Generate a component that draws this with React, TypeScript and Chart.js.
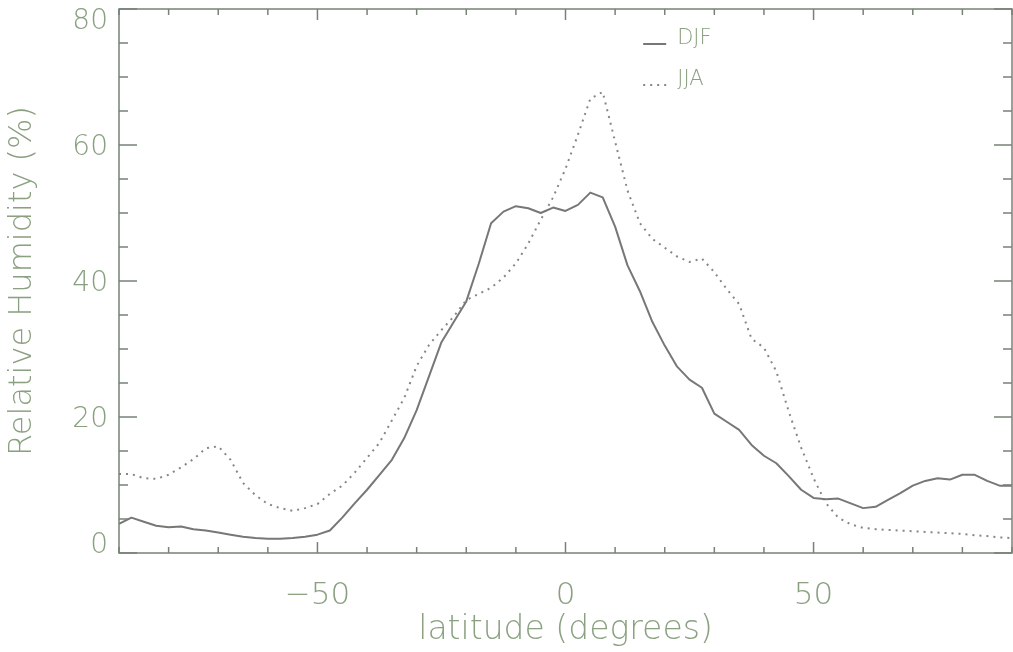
import React, { useEffect, useRef } from "react";
import { Chart, registerables } from "chart.js";

Chart.register(...registerables);

// ---- data ----
const latitudes = [
  -90, -87.5, -85, -82.5, -80, -77.5, -75, -72.5, -70, -67.5, -65, -62.5, -60, -57.5, -55, -52.5,
  -50, -47.5, -45, -42.5, -40, -37.5, -35, -32.5, -30, -27.5, -25, -22.5, -20, -17.5, -15, -12.5,
  -10, -7.5, -5, -2.5, 0, 2.5, 5, 7.5, 10, 12.5, 15, 17.5, 20, 22.5, 25, 27.5,
  30, 32.5, 35, 37.5, 40, 42.5, 45, 47.5, 50, 52.5, 55, 57.5, 60, 62.5, 65, 67.5,
  70, 72.5, 75, 77.5, 80, 82.5, 85, 87.5, 90,
];

const djf = [
  4.3, 5.2, 4.6, 4.0, 3.8, 3.9, 3.5, 3.3, 3.0, 2.7, 2.4, 2.2, 2.1, 2.1, 2.2, 2.4,
  2.7, 3.3, 5.2, 7.3, 9.3, 11.5, 13.7, 16.9, 21.0, 26.0, 31.0, 34.0, 37.0, 42.5, 48.5, 50.2,
  51.0, 50.7, 50.0, 50.8, 50.3, 51.2, 53.0, 52.3, 48.0, 42.3, 38.5, 34.0, 30.5, 27.4, 25.5, 24.3,
  20.5, 19.3, 18.1, 15.9, 14.3, 13.2, 11.3, 9.3, 8.1, 7.9, 8.0, 7.3, 6.6, 6.8, 7.8, 8.8,
  9.9, 10.6, 11.0, 10.8, 11.5, 11.5, 10.6, 9.9, 9.9,
];

const jja = [
  11.6, 11.6, 11.0, 10.9, 11.5, 12.6, 13.8, 15.4, 15.7, 13.7, 10.3, 8.5, 7.2, 6.6, 6.2, 6.6,
  7.2, 8.7, 9.9, 11.8, 14.0, 16.2, 19.5, 22.8, 27.5, 30.6, 32.8, 34.8, 37.2, 38.1, 39.0, 40.5,
  42.6, 45.5, 49.0, 52.3, 56.5, 61.5, 66.8, 67.8, 60.5, 53.3, 48.5, 46.2, 44.9, 43.6, 42.8, 43.3,
  41.3, 38.8, 36.6, 31.5, 30.2, 26.7, 20.8, 15.5, 11.0, 7.3, 5.2, 4.2, 3.7, 3.5, 3.4, 3.3,
  3.2, 3.1, 3.0, 2.9, 2.8, 2.6, 2.5, 2.3, 2.2,
];

const seriesLabels = ["DJF", "JJA"];
const xTickValues = [-50, 0, 50];
const yTickValues = [0, 20, 40, 60, 80];
const xRange = [-90, 90];
const yRange = [0, 80];
const xMinorStep = 10;
const yMinorStep = 5;
const xTitle = "latitude (degrees)";
const yTitle = "Relative Humidity (%)";

// ---- styles ----
const AXIS = "rgb(118,130,116)";
const TEXT = "rgb(138,160,128)";
const SOLID = "rgb(118,120,116)";
const DOTS = "rgb(132,135,132)";
const FONT = "'DejaVu Sans', sans-serif";
const WEIGHT = "200";

const framePlugin = {
  id: "idlFrame",
  afterDatasetsDraw(chart: any) {
    const { ctx, chartArea: a, scales } = chart;
    const xs = scales.x;
    const ys = scales.y;
    ctx.save();
    ctx.strokeStyle = AXIS;
    ctx.lineWidth = 1.5;
    ctx.setLineDash([]);
    ctx.strokeRect(a.left, a.top, a.right - a.left, a.bottom - a.top);
    const seg = (x1: number, y1: number, x2: number, y2: number) => {
      ctx.beginPath();
      ctx.moveTo(x1, y1);
      ctx.lineTo(x2, y2);
      ctx.stroke();
    };
    for (let v = xs.min; v <= xs.max + 1e-6; v += xMinorStep) {
      const px = xs.getPixelForValue(v);
      const len = xTickValues.includes(v) ? 11 : 6;
      seg(px, a.bottom, px, a.bottom - len);
      seg(px, a.top, px, a.top + len);
    }
    for (let v = ys.min; v <= ys.max + 1e-6; v += yMinorStep) {
      const py = ys.getPixelForValue(v);
      const len = yTickValues.includes(v) ? 18 : 9;
      seg(a.left, py, a.left + len, py);
      seg(a.right, py, a.right - len, py);
    }
    // legend
    const lx = a.left + (a.right - a.left) * 0.587;
    const baseY = [44, 85];
    chart.data.datasets.forEach((ds: any, i: number) => {
      const yy = baseY[i];
      ctx.strokeStyle = ds.borderColor;
      ctx.lineWidth = ds.borderWidth;
      ctx.setLineDash(ds.borderDash || []);
      seg(lx, yy, lx + 23, yy);
      ctx.setLineDash([]);
      ctx.fillStyle = TEXT;
      ctx.font = `${WEIGHT} 21px ${FONT}`;
      ctx.textBaseline = "alphabetic";
      ctx.textAlign = "left";
      ctx.fillText(ds.label, lx + 34, yy);
    });
    ctx.restore();
  },
};

const fmt = (v: number) => (v < 0 ? "\u2212" + Math.abs(v) : String(v));

export default function App() {
  const ref = useRef<HTMLCanvasElement>(null);
  useEffect(() => {
    const canvas = ref.current;
    if (!canvas) return;
    const yLast = yTickValues[yTickValues.length - 1];
    const yFirst = yTickValues[0];
    const chart = new Chart(canvas, {
      type: "line",
      data: {
        datasets: [
          {
            label: seriesLabels[0],
            data: latitudes.map((x, i) => ({ x, y: djf[i] })),
            borderColor: SOLID,
            borderWidth: 2,
            pointRadius: 0,
            tension: 0,
            borderJoinStyle: "round",
          },
          {
            label: seriesLabels[1],
            data: latitudes.map((x, i) => ({ x, y: jja[i] })),
            borderColor: DOTS,
            borderWidth: 2,
            borderDash: [2, 5],
            pointRadius: 0,
            tension: 0,
          },
        ],
      },
      options: {
        animation: false,
        responsive: false,
        layout: { padding: { top: 9, right: 1, left: 0, bottom: 0 } },
        scales: {
          x: {
            type: "linear",
            min: xRange[0],
            max: xRange[1],
            afterBuildTicks: (s: any) => {
              s.ticks = xTickValues.map((v) => ({ value: v }));
            },
            afterFit: (s: any) => {
              s.height = 99;
              s.paddingLeft = 0;
              s.paddingRight = 0;
            },
            grid: { display: false, drawTicks: false },
            border: { display: false },
            ticks: {
              autoSkip: false,
              maxRotation: 0,
              color: TEXT,
              padding: 24,
              font: { family: FONT, size: 31, weight: WEIGHT },
              callback: (v: any) => fmt(Number(v)),
            },
            title: {
              display: true,
              text: xTitle,
              color: TEXT,
              font: { family: FONT, size: 33, weight: WEIGHT },
              padding: { top: 0, bottom: 2 },
            },
          },
          y: {
            type: "linear",
            min: yRange[0],
            max: yRange[1],
            afterBuildTicks: (s: any) => {
              s.ticks = yTickValues.map((v) => ({ value: v }));
            },
            afterFit: (s: any) => {
              s.width = 119;
              s.paddingTop = 0;
              s.paddingBottom = 0;
            },
            grid: { display: false, drawTicks: false },
            border: { display: false },
            ticks: {
              autoSkip: false,
              color: TEXT,
              padding: 11,
              labelOffset: 3,
              font: (c: any) => {
                const v = c.tick ? c.tick.value : null;
                const edge = v === yLast || v === yFirst;
                return { family: FONT, size: 28, weight: WEIGHT, lineHeight: edge ? "20px" : 1.2 };
              },
              // the end labels sit inside the frame, as in the reference
              callback: (v: any) => {
                const n = Number(v);
                const s = fmt(n);
                if (n === yLast) return ["", s];
                if (n === yFirst) return [s, ""];
                return s;
              },
            },
            title: {
              display: true,
              text: yTitle,
              color: TEXT,
              font: { family: FONT, size: 32, weight: WEIGHT },
              padding: { top: 3, bottom: 0 },
            },
          },
        },
        plugins: { legend: { display: false }, tooltip: { enabled: false } },
      },
      plugins: [framePlugin],
    } as any);
    return () => chart.destroy();
  }, []);
  return (
    <div style={{ position: "absolute", left: 0, top: 0, width: 1013, height: 652, background: "#fff", overflow: "hidden" }}>
      <canvas ref={ref} width={1013} height={652} style={{ display: "block" }} />
    </div>
  );
}
